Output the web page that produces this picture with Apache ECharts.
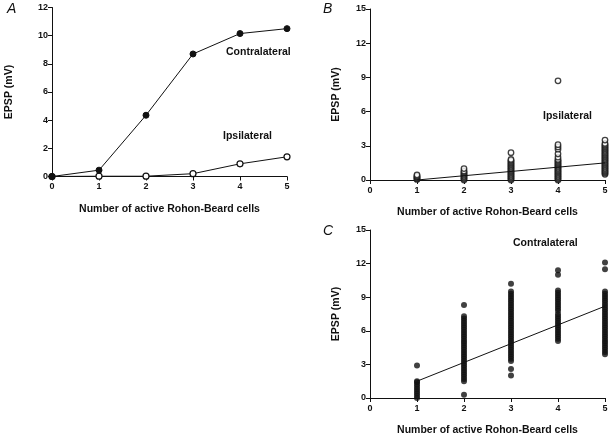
<!DOCTYPE html>
<html>
<head>
<meta charset="utf-8">
<script src="https://cdn.jsdelivr.net/npm/echarts@6/dist/echarts.min.js"></script>
<style>
html,body{margin:0;padding:0;background:#fff;}
#chart{width:613px;height:437px;}
</style>
</head>
<body>
<div id="chart"></div>
<script>
// Panel A: mean EPSP vs number of active cells
var cellsA = [0, 1, 2, 3, 4, 5];
var contraMeanA = [0, 0.45, 4.35, 8.7, 10.15, 10.5];
var ipsiMeanA = [0, 0.02, 0.02, 0.2, 0.9, 1.4];

// Panel B: ipsilateral individual EPSPs per number of cells
var ipsiCol1 = [0.05, 0.12, 0.2, 0.28, 0.35, 0.45];
var ipsiCol2 = [0.0, 0.1, 0.2, 0.3, 0.4, 0.5, 0.6, 0.7, 0.8, 1.0];
var ipsiCol3 = [0.0, 0.1, 0.2, 0.3, 0.4, 0.5, 0.6, 0.7, 0.8, 0.9, 1.0, 1.1, 1.2, 1.3, 1.4, 1.5, 1.6, 1.7, 1.8, 2.4];
var ipsiCol4 = [0.0, 0.1, 0.2, 0.3, 0.4, 0.5, 0.6, 0.7, 0.8, 0.9, 1.0, 1.1, 1.2, 1.3, 1.4, 1.5, 1.6, 1.7, 1.8, 2.0, 2.3, 2.7, 2.9, 3.1, 8.7];
var ipsiCol5 = [0.5, 0.6, 0.7, 0.8, 0.9, 1.0, 1.1, 1.2, 1.3, 1.4, 1.5, 1.6, 1.7, 1.8, 1.9, 2.0, 2.1, 2.2, 2.3, 2.4, 2.5, 2.6, 2.7, 2.8, 2.9, 3.0, 3.1, 3.2, 3.5];
var ipsiFitX = [1, 5];
var ipsiFitY = [0, 1.5];

// Panel C: contralateral individual EPSPs per number of cells
var contraCol1 = [0.0, 0.2, 0.4, 0.6, 0.8, 1.0, 1.2, 1.4, 1.5, 2.9];
var contraCol2 = [0.3, 1.5, 1.7, 1.9, 2.1, 2.3, 2.5, 2.7, 2.9, 3.1, 3.3, 3.5, 3.7, 3.9, 4.1, 4.3, 4.5, 4.7, 4.9, 5.1, 5.3, 5.5, 5.7, 5.9, 6.1, 6.3, 6.5, 6.7, 6.9, 7.1, 7.3, 8.3];
var contraCol3 = [2.0, 2.6, 3.3, 3.5, 3.7, 3.9, 4.1, 4.3, 4.5, 4.7, 4.9, 5.1, 5.3, 5.5, 5.7, 5.9, 6.1, 6.3, 6.5, 6.7, 6.9, 7.1, 7.3, 7.5, 7.7, 7.9, 8.1, 8.3, 8.5, 8.7, 8.9, 9.1, 9.3, 9.5, 10.2];
var contraCol4 = [5.1, 5.3, 5.5, 5.7, 5.9, 6.1, 6.3, 6.5, 6.7, 6.9, 7.1, 7.3, 7.5, 7.8, 8.0, 8.2, 8.4, 8.6, 8.8, 9.0, 9.2, 9.4, 9.6, 11.0, 11.4];
var contraCol5 = [3.9, 4.1, 4.3, 4.5, 4.7, 4.9, 5.1, 5.3, 5.5, 5.7, 5.9, 6.1, 6.3, 6.5, 6.7, 6.9, 7.1, 7.3, 7.5, 7.7, 7.9, 8.1, 8.3, 8.5, 8.7, 8.9, 9.1, 9.3, 9.5, 11.5, 12.1];
var contraFitX = [1, 5];
var contraFitY = [1.5, 8.2];

var xTicks = [0, 1, 2, 3, 4, 5];
var xName = 'Number of active Rohon-Beard cells';
var yName = 'EPSP (mV)';

function pairs(xs, ys) { return xs.map(function (x, i) { return [x, ys[i]]; }); }
function cols(list) {
  var out = [];
  list.forEach(function (col, i) { col.forEach(function (v) { out.push([i + 1, v]); }); });
  return out;
}

var FONT = 'Liberation Sans, Arial, sans-serif';
var lineStyle = { color: '#111', width: 1 };

function xAxis(gi) {
  return {
    type: 'value', gridIndex: gi, min: 0, max: 5, interval: 1,
    name: xName, nameLocation: 'middle', nameGap: 27,
    nameTextStyle: { fontFamily: FONT, fontWeight: 'bold', fontSize: 10.5, color: '#111' },
    axisLine: { lineStyle: lineStyle, onZero: false },
    axisTick: { lineStyle: lineStyle, length: 4 },
    axisLabel: { fontFamily: FONT, fontWeight: 'bold', fontSize: 9, color: '#111', margin: 6 },
    splitLine: { show: false }
  };
}
function yAxis(gi, max, interval, gap) {
  return {
    type: 'value', gridIndex: gi, min: 0, max: max, interval: interval,
    name: yName, nameLocation: 'middle', nameGap: gap,
    nameTextStyle: { fontFamily: FONT, fontWeight: 'bold', fontSize: 10.5, color: '#111' },
    axisLine: { show: true, lineStyle: lineStyle },
    axisTick: { show: true, lineStyle: lineStyle, length: 4 },
    axisLabel: { fontFamily: FONT, fontWeight: 'bold', fontSize: 9, color: '#111', margin: 4 },
    splitLine: { show: false }
  };
}

var option = {
  backgroundColor: '#fff',
  animation: false,
  grid: [
    { left: 52, top: 7.5, width: 235, height: 169 },
    { left: 370, top: 9, width: 235, height: 171 },
    { left: 370, top: 230, width: 235, height: 172 }
  ],
  xAxis: [xAxis(0), xAxis(1), xAxis(2)],
  yAxis: [yAxis(0, 12, 2, 37), yAxis(1, 15, 3, 28), yAxis(2, 15, 3, 28)],
  series: [
    {
      type: 'line', xAxisIndex: 0, yAxisIndex: 0, data: pairs(cellsA, ipsiMeanA),
      symbol: 'circle', symbolSize: 6, lineStyle: lineStyle,
      itemStyle: { color: '#fff', borderColor: '#111', borderWidth: 1.2 }, z: 3
    },
    {
      type: 'line', xAxisIndex: 0, yAxisIndex: 0, data: pairs(cellsA, contraMeanA),
      symbol: 'circle', symbolSize: 6, lineStyle: lineStyle,
      itemStyle: { color: '#111', borderColor: '#111' }, z: 4
    },
    {
      type: 'scatter', xAxisIndex: 1, yAxisIndex: 1,
      data: cols([ipsiCol1, ipsiCol2, ipsiCol3, ipsiCol4, ipsiCol5]),
      symbol: 'circle', symbolSize: 5.5,
      itemStyle: { color: '#fff', borderColor: '#111', borderWidth: 1.3 }
    },
    {
      type: 'line', xAxisIndex: 1, yAxisIndex: 1, data: pairs(ipsiFitX, ipsiFitY),
      symbol: 'none', lineStyle: lineStyle, z: 5
    },
    {
      type: 'scatter', xAxisIndex: 2, yAxisIndex: 2,
      data: cols([contraCol1, contraCol2, contraCol3, contraCol4, contraCol5]),
      symbol: 'circle', symbolSize: 6,
      itemStyle: { color: '#111' }
    },
    {
      type: 'line', xAxisIndex: 2, yAxisIndex: 2, data: pairs(contraFitX, contraFitY),
      symbol: 'none', lineStyle: lineStyle, z: 5
    }
  ],
  graphic: [
    { type: 'text', left: 7, top: 2, style: { text: 'A', font: 'italic 14px ' + FONT, fill: '#111' } },
    { type: 'text', left: 323, top: 2, style: { text: 'B', font: 'italic 14px ' + FONT, fill: '#111' } },
    { type: 'text', left: 323, top: 224, style: { text: 'C', font: 'italic 14px ' + FONT, fill: '#111' } },
    { type: 'text', left: 226, top: 47, style: { text: 'Contralateral', font: 'bold 10.5px ' + FONT, fill: '#111' } },
    { type: 'text', left: 223, top: 131, style: { text: 'Ipsilateral', font: 'bold 10.5px ' + FONT, fill: '#111' } },
    { type: 'text', left: 543, top: 111, style: { text: 'Ipsilateral', font: 'bold 10.5px ' + FONT, fill: '#111' } },
    { type: 'text', left: 513, top: 238, style: { text: 'Contralateral', font: 'bold 10.5px ' + FONT, fill: '#111' } }
  ]
};

var chart = echarts.init(document.getElementById('chart'), null, { renderer: 'canvas' });
chart.setOption(option);
</script>
</body>
</html>
